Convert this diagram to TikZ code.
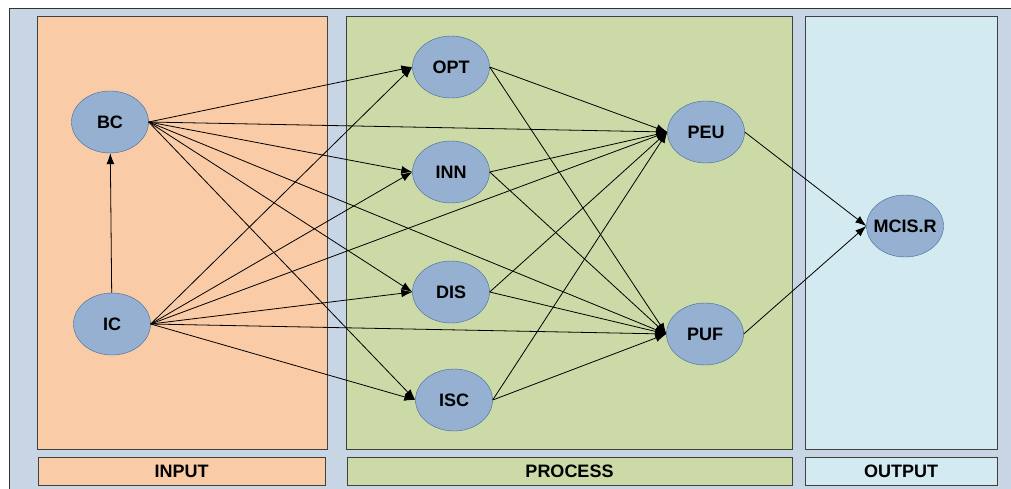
\documentclass[tikz,border=0pt]{standalone}
\usepackage{fontspec}
\setmainfont{Liberation Sans}
\usetikzlibrary{shapes,arrows.meta}
\definecolor{framebg}{HTML}{C8D5E5}
\definecolor{inputbg}{HTML}{F9CBA6}
\definecolor{processbg}{HTML}{CCDAA8}
\definecolor{outputbg}{HTML}{D2EAF0}
\definecolor{varfill}{HTML}{95B0D0}
\definecolor{varborder}{HTML}{41699A}

\begin{document}
\begin{tikzpicture}[x=1pt,y=-1pt]
		\tikzstyle{every node}=[font=\bfseries\fontsize{18}{21}\selectfont];
		\tikzstyle{var}=[draw=varborder, fill=varfill, shape=ellipse, minimum width=77pt, minimum height=62pt, inner sep=0pt];
		\tikzstyle{panel}=[draw=black!75, line width=1pt];
		\tikzstyle{link}=[-{Latex[length=11pt,width=8pt]}, line width=0.8pt];
		\useasboundingbox (0,0) rectangle (1011,489);
		% background and the three columns
		\fill[framebg] (9,9) rectangle (1011,489);
		\draw[black!80, line width=1pt] (9,489) -- (9,9) -- (1011,9);
		\draw[panel, fill=inputbg] (37,17) rectangle (327,449);
		\draw[panel, fill=processbg] (346,17) rectangle (792,449);
		\draw[panel, fill=outputbg] (805,17) rectangle (997,449);
		\node[panel, fill=inputbg, minimum width=287pt, minimum height=28pt] (input) at (181.5,471.5) {INPUT};
		\node[panel, fill=processbg, minimum width=445pt, minimum height=28pt] (process) at (569.5,471.5) {PROCESS};
		\node[panel, fill=outputbg, minimum width=192pt, minimum height=28pt] (output) at (901,471.5) {OUTPUT};
		% variables
		\node[var] (bc) at (110,122) {BC};
		\node[var] (ic) at (112,324) {IC};
		\node[var] (opt) at (451,67) {OPT};
		\node[var] (inn) at (451,172) {INN};
		\node[var] (dis) at (451,292) {DIS};
		\node[var] (isc) at (454,400) {ISC};
		\node[var] (peu) at (706,132) {PEU};
		\node[var] (puf) at (705,334) {PUF};
		\node[var] (mcis) at (905,226) {\makebox[50pt]{MCIS.R}};
		% paths
		\draw[link] (ic) -- (bc);
		\foreach \t in {opt,inn,dis,isc,peu,puf} {
			\draw[link] (bc.east) -- (\t.west);
			\draw[link] (ic.east) -- (\t.west);
		}
		\foreach \s in {opt,inn,dis,isc} {
			\draw[link] (\s.east) -- (peu.west);
			\draw[link] (\s.east) -- (puf.west);
		}
		\draw[link] (peu.east) -- (mcis.west);
		\draw[link] (puf.east) -- (mcis.west);
	\end{tikzpicture}
\end{document}
